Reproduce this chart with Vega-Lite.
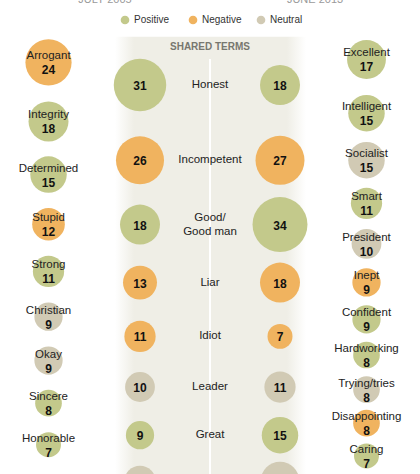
{
  "$schema": "https://vega.github.io/schema/vega-lite/v6.json",
  "width": 420,
  "height": 474,
  "padding": 0,
  "autosize": {"type": "none"},
  "background": "#ffffff",
  "config": {"view": {"stroke": null}, "font": "Liberation Sans"},
  "data": {
    "values": [
      {"group": "2005 only", "year": "2005", "rank": 1, "term": "Arrogant", "value": 24, "tone": "Negative"},
      {"group": "2005 only", "year": "2005", "rank": 2, "term": "Integrity", "value": 18, "tone": "Positive"},
      {"group": "2005 only", "year": "2005", "rank": 3, "term": "Determined", "value": 15, "tone": "Positive"},
      {"group": "2005 only", "year": "2005", "rank": 4, "term": "Stupid", "value": 12, "tone": "Negative"},
      {"group": "2005 only", "year": "2005", "rank": 5, "term": "Strong", "value": 11, "tone": "Positive"},
      {"group": "2005 only", "year": "2005", "rank": 6, "term": "Christian", "value": 9, "tone": "Neutral"},
      {"group": "2005 only", "year": "2005", "rank": 7, "term": "Okay", "value": 9, "tone": "Neutral"},
      {"group": "2005 only", "year": "2005", "rank": 8, "term": "Sincere", "value": 8, "tone": "Positive"},
      {"group": "2005 only", "year": "2005", "rank": 9, "term": "Honorable", "value": 7, "tone": "Positive"},
      {"group": "2013 only", "year": "2013", "rank": 1, "term": "Excellent", "value": 17, "tone": "Positive"},
      {"group": "2013 only", "year": "2013", "rank": 2, "term": "Intelligent", "value": 15, "tone": "Positive"},
      {"group": "2013 only", "year": "2013", "rank": 3, "term": "Socialist", "value": 15, "tone": "Neutral"},
      {"group": "2013 only", "year": "2013", "rank": 4, "term": "Smart", "value": 11, "tone": "Positive"},
      {"group": "2013 only", "year": "2013", "rank": 5, "term": "President", "value": 10, "tone": "Neutral"},
      {"group": "2013 only", "year": "2013", "rank": 6, "term": "Inept", "value": 9, "tone": "Negative"},
      {"group": "2013 only", "year": "2013", "rank": 7, "term": "Confident", "value": 9, "tone": "Positive"},
      {"group": "2013 only", "year": "2013", "rank": 8, "term": "Hardworking", "value": 8, "tone": "Positive"},
      {"group": "2013 only", "year": "2013", "rank": 9, "term": "Trying/tries", "value": 8, "tone": "Neutral"},
      {"group": "2013 only", "year": "2013", "rank": 10, "term": "Disappointing", "value": 8, "tone": "Negative"},
      {"group": "2013 only", "year": "2013", "rank": 11, "term": "Caring", "value": 7, "tone": "Positive"},
      {"group": "Shared", "year": "2005", "rank": 1, "term": "Honest", "value": 31, "tone": "Positive"},
      {"group": "Shared", "year": "2013", "rank": 1, "term": "Honest", "value": 18, "tone": "Positive"},
      {"group": "Shared", "year": "2005", "rank": 2, "term": "Incompetent", "value": 26, "tone": "Negative"},
      {"group": "Shared", "year": "2013", "rank": 2, "term": "Incompetent", "value": 27, "tone": "Negative"},
      {"group": "Shared", "year": "2005", "rank": 3, "term": "Good/\nGood man", "value": 18, "tone": "Positive"},
      {"group": "Shared", "year": "2013", "rank": 3, "term": "Good/\nGood man", "value": 34, "tone": "Positive"},
      {"group": "Shared", "year": "2005", "rank": 4, "term": "Liar", "value": 13, "tone": "Negative"},
      {"group": "Shared", "year": "2013", "rank": 4, "term": "Liar", "value": 18, "tone": "Negative"},
      {"group": "Shared", "year": "2005", "rank": 5, "term": "Idiot", "value": 11, "tone": "Negative"},
      {"group": "Shared", "year": "2013", "rank": 5, "term": "Idiot", "value": 7, "tone": "Negative"},
      {"group": "Shared", "year": "2005", "rank": 6, "term": "Leader", "value": 10, "tone": "Neutral"},
      {"group": "Shared", "year": "2013", "rank": 6, "term": "Leader", "value": 11, "tone": "Neutral"},
      {"group": "Shared", "year": "2005", "rank": 7, "term": "Great", "value": 9, "tone": "Positive"},
      {"group": "Shared", "year": "2013", "rank": 7, "term": "Great", "value": 15, "tone": "Positive"},
      {"group": "Shared", "year": "2005", "rank": 8, "term": "Average", "value": 11, "tone": "Neutral"},
      {"group": "Shared", "year": "2013", "rank": 8, "term": "Average", "value": 17, "tone": "Neutral"}
    ]
  },
  "layer": [
    {
      "data": {"values": [{"year": "2005", "label": "JULY 2005"}, {"year": "2013", "label": "JUNE 2013"}]},
      "mark": {"type": "text", "fontSize": 11, "color": "#9a9a9a", "baseline": "alphabetic", "clip": true},
      "encoding": {
        "x": {"field": "year", "type": "nominal", "axis": null, "scale": {"type": "point", "domain": ["2005", "2013"], "padding": 0.5}},
        "y": {"datum": 0.183, "type": "quantitative", "axis": null, "scale": {"type": "pow", "exponent": 0.8, "domain": [0.1474, 9.72], "reverse": true, "zero": false, "nice": false}},
        "text": {"field": "label"}
      }
    },
    {
      "data": {"values": [{"part": "shared band"}]},
      "mark": {
        "type": "rect", "clip": true, "xOffset": -25, "x2Offset": 26,
        "color": {"gradient": "linear", "x1": 0, "x2": 1, "y1": 0, "y2": 0,
          "stops": [{"offset": 0, "color": "#ffffff"}, {"offset": 0.1, "color": "#efeee6"}, {"offset": 0.9, "color": "#efeee6"}, {"offset": 1, "color": "#ffffff"}]}
      },
      "encoding": {
        "x": {"datum": "2005", "type": "nominal", "axis": null, "scale": {"type": "point", "domain": ["2005", "2013"], "padding": 1.0672, "align": 0.5}},
        "x2": {"datum": "2013"},
        "y": {"datum": 0.48, "type": "quantitative", "axis": null, "scale": {"type": "pow", "exponent": 0.7, "domain": [0.1742, 7.84], "reverse": true, "zero": false, "nice": false}},
        "y2": {"datum": 9}
      }
    },
    {
      "data": {"values": [{"part": "divider"}]},
      "mark": {"type": "rule", "color": "#ffffff", "strokeWidth": 2, "clip": true},
      "encoding": {
        "y": {"datum": 0.706, "type": "quantitative", "axis": null, "scale": {"type": "pow", "exponent": 0.7, "domain": [0.1742, 7.84], "reverse": true, "zero": false, "nice": false}},
        "y2": {"datum": 9}
      }
    },
    {
      "data": {"values": [{"label": "SHARED TERMS"}]},
      "mark": {"type": "text", "fontSize": 10, "fontWeight": "bold", "color": "#77776f", "baseline": "middle"},
      "encoding": {
        "y": {"datum": 0.58, "type": "quantitative", "axis": null, "scale": {"type": "pow", "exponent": 0.7, "domain": [0.1742, 7.84], "reverse": true, "zero": false, "nice": false}},
        "text": {"field": "label"}
      }
    },
    {
      "transform": [{"filter": "datum.group === 'Shared'"}],
      "mark": {"type": "circle", "opacity": 1, "clip": true},
      "encoding": {
        "x": {"field": "year", "type": "nominal", "axis": null, "scale": {"type": "point", "domain": ["2005", "2013"], "padding": 1.0672, "align": 0.5}},
        "y": {"field": "rank", "type": "quantitative", "axis": null, "scale": {"type": "pow", "exponent": 0.7, "domain": [0.1742, 7.84], "reverse": true, "zero": false, "nice": false}},
        "size": {"field": "value", "type": "quantitative", "legend": null, "scale": {"type": "linear", "domain": [0, 34], "range": [0, 3019], "zero": true}},
        "color": {"field": "tone", "type": "nominal", "scale": {"domain": ["Positive", "Negative", "Neutral"], "range": ["#c3c98b", "#f0b35f", "#d1cab4"]},
          "legend": {"orient": "none", "legendX": 120, "legendY": 15, "direction": "horizontal", "title": null, "symbolType": "circle", "symbolSize": 75, "symbolStrokeWidth": 0, "labelFontSize": 10, "labelColor": "#333333", "labelFont": "Liberation Sans", "labelOffset": 4, "columnPadding": 14, "gridAlign": "all"}}
      }
    },
    {
      "transform": [{"filter": "datum.group === 'Shared' && datum.rank <= 7"}],
      "mark": {"type": "text", "fontSize": 12, "fontWeight": "bold", "color": "#111111", "clip": true, "dy": 1},
      "encoding": {
        "x": {"field": "year", "type": "nominal", "axis": null, "scale": {"type": "point", "domain": ["2005", "2013"], "padding": 1.0672, "align": 0.5}},
        "y": {"field": "rank", "type": "quantitative", "axis": null, "scale": {"type": "pow", "exponent": 0.7, "domain": [0.1742, 7.84], "reverse": true, "zero": false, "nice": false}},
        "text": {"field": "value", "type": "quantitative"}
      }
    },
    {
      "transform": [{"filter": "datum.group === 'Shared' && datum.year === '2005' && datum.rank <= 7 && datum.rank !== 3"}],
      "mark": {"type": "text", "fontSize": 11.5, "color": "#222222", "clip": true},
      "encoding": {
        "y": {"field": "rank", "type": "quantitative", "axis": null, "scale": {"type": "pow", "exponent": 0.7, "domain": [0.1742, 7.84], "reverse": true, "zero": false, "nice": false}},
        "text": {"field": "term"}
      }
    },
    {
      "transform": [{"filter": "datum.group === 'Shared' && datum.year === '2005' && datum.rank === 3"}],
      "mark": {"type": "text", "fontSize": 11.5, "color": "#222222", "lineBreak": "\n", "lineHeight": 14, "dy": -7, "clip": true},
      "encoding": {
        "y": {"field": "rank", "type": "quantitative", "axis": null, "scale": {"type": "pow", "exponent": 0.7, "domain": [0.1742, 7.84], "reverse": true, "zero": false, "nice": false}},
        "text": {"field": "term"}
      }
    },
    {
      "transform": [{"filter": "datum.group === '2005 only'"}],
      "mark": {"type": "circle", "opacity": 1, "clip": true},
      "encoding": {
        "x": {"field": "year", "type": "nominal", "axis": null, "scale": {"type": "point", "domain": ["2005"], "padding": 1, "align": 0.1155}},
        "y": {"field": "rank", "type": "quantitative", "axis": null, "scale": {"type": "pow", "exponent": 0.8, "domain": [0.1474, 9.72], "reverse": true, "zero": false, "nice": false}},
        "size": {"field": "value", "type": "quantitative", "legend": null, "scale": {"type": "linear", "domain": [0, 34], "range": [0, 3019], "zero": true}},
        "color": {"field": "tone", "type": "nominal", "scale": {"domain": ["Positive", "Negative", "Neutral"], "range": ["#c3c98b", "#f0b35f", "#d1cab4"]},
          "legend": {"orient": "none", "legendX": 120, "legendY": 15, "direction": "horizontal", "title": null, "symbolType": "circle", "symbolSize": 75, "symbolStrokeWidth": 0, "labelFontSize": 10, "labelColor": "#333333", "labelFont": "Liberation Sans", "labelOffset": 4, "columnPadding": 14, "gridAlign": "all"}}
      }
    },
    {
      "transform": [{"filter": "datum.group === '2005 only'"}],
      "mark": {"type": "text", "fontSize": 11.5, "color": "#222222", "dy": -6, "clip": true},
      "encoding": {
        "x": {"field": "year", "type": "nominal", "axis": null, "scale": {"type": "point", "domain": ["2005"], "padding": 1, "align": 0.1155}},
        "y": {"field": "rank", "type": "quantitative", "axis": null, "scale": {"type": "pow", "exponent": 0.8, "domain": [0.1474, 9.72], "reverse": true, "zero": false, "nice": false}},
        "text": {"field": "term"}
      }
    },
    {
      "transform": [{"filter": "datum.group === '2005 only'"}],
      "mark": {"type": "text", "fontSize": 12, "fontWeight": "bold", "color": "#111111", "dy": 8, "clip": true},
      "encoding": {
        "x": {"field": "year", "type": "nominal", "axis": null, "scale": {"type": "point", "domain": ["2005"], "padding": 1, "align": 0.1155}},
        "y": {"field": "rank", "type": "quantitative", "axis": null, "scale": {"type": "pow", "exponent": 0.8, "domain": [0.1474, 9.72], "reverse": true, "zero": false, "nice": false}},
        "text": {"field": "value", "type": "quantitative"}
      }
    },
    {
      "transform": [{"filter": "datum.group === '2013 only'"}],
      "mark": {"type": "circle", "opacity": 1, "clip": true},
      "encoding": {
        "x": {"field": "year", "type": "nominal", "axis": null, "scale": {"type": "point", "domain": ["2013"], "padding": 1, "align": 0.8726}},
        "y": {"field": "rank", "type": "quantitative", "axis": null, "scale": {"type": "pow", "exponent": 0.75, "domain": [0.1522, 11.56], "reverse": true, "zero": false, "nice": false}},
        "size": {"field": "value", "type": "quantitative", "legend": null, "scale": {"type": "linear", "domain": [0, 34], "range": [0, 3019], "zero": true}},
        "color": {"field": "tone", "type": "nominal", "scale": {"domain": ["Positive", "Negative", "Neutral"], "range": ["#c3c98b", "#f0b35f", "#d1cab4"]},
          "legend": {"orient": "none", "legendX": 120, "legendY": 15, "direction": "horizontal", "title": null, "symbolType": "circle", "symbolSize": 75, "symbolStrokeWidth": 0, "labelFontSize": 10, "labelColor": "#333333", "labelFont": "Liberation Sans", "labelOffset": 4, "columnPadding": 14, "gridAlign": "all"}}
      }
    },
    {
      "transform": [{"filter": "datum.group === '2013 only'"}],
      "mark": {"type": "text", "fontSize": 11.5, "color": "#222222", "dy": -6, "clip": true},
      "encoding": {
        "x": {"field": "year", "type": "nominal", "axis": null, "scale": {"type": "point", "domain": ["2013"], "padding": 1, "align": 0.8726}},
        "y": {"field": "rank", "type": "quantitative", "axis": null, "scale": {"type": "pow", "exponent": 0.75, "domain": [0.1522, 11.56], "reverse": true, "zero": false, "nice": false}},
        "text": {"field": "term"}
      }
    },
    {
      "transform": [{"filter": "datum.group === '2013 only'"}],
      "mark": {"type": "text", "fontSize": 12, "fontWeight": "bold", "color": "#111111", "dy": 8, "clip": true},
      "encoding": {
        "x": {"field": "year", "type": "nominal", "axis": null, "scale": {"type": "point", "domain": ["2013"], "padding": 1, "align": 0.8726}},
        "y": {"field": "rank", "type": "quantitative", "axis": null, "scale": {"type": "pow", "exponent": 0.75, "domain": [0.1522, 11.56], "reverse": true, "zero": false, "nice": false}},
        "text": {"field": "value", "type": "quantitative"}
      }
    }
  ],
  "resolve": {"scale": {"x": "independent", "y": "independent"}}
}
